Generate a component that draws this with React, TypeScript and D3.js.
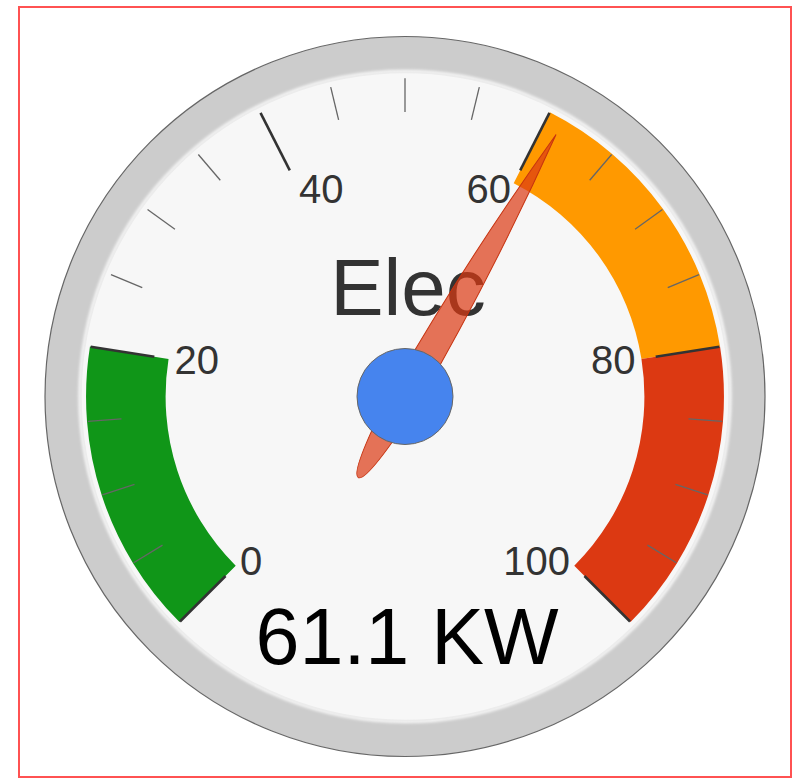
import React from "react";
import * as d3 from "d3";

// gauge content
const gaugeLabel = "Elec";
const gaugeValue = 61.1;
const valueText = "61.1 KW";
const majorTicks = [0, 20, 40, 60, 80, 100];
const bandFrom = [0, 60, 80];
const bandTo = [20, 80, 100];
const bandColors = ["#109618", "#FF9900", "#DC3912"];

const W = 794,
  H = 778;
const cx = 405,
  cy = 396.5,
  R = 360;

export default function App() {
  // value -> angle (degrees, 0 = up, clockwise)
  const angle = d3.scaleLinear().domain([0, 100]).range([-135, 135]);
  const rad = (v: number) => (angle(v) * Math.PI) / 180;
  const pt = (v: number, r: number) => [
    cx + r * Math.sin(rad(v)),
    cy - r * Math.cos(rad(v)),
  ];

  const bandArc = d3
    .arc<any>()
    .innerRadius(R * 0.665)
    .outerRadius(R * 0.886);

  const minorTicks = angle.ticks(25).filter((t) => majorTicks.indexOf(t) < 0);

  // needle shape, pointing up, then rotated
  const needle = d3.path();
  const tip = R * 0.84,
    tail = R * 0.26,
    hw = 15;
  needle.moveTo(0, -tip);
  needle.quadraticCurveTo(hw, -tip / 2, hw, 0);
  needle.quadraticCurveTo(10, tail, 0, tail);
  needle.quadraticCurveTo(-10, tail, -hw, 0);
  needle.quadraticCurveTo(-hw, -tip / 2, 0, -tip);
  needle.closePath();

  const font = "Arial, 'Liberation Sans', sans-serif";

  return (
    <div style={{ position: "absolute", left: 0, top: 0 }}>
      <svg width={W} height={H} style={{ display: "block" }}>
        <defs>
          <filter id="soft" x="-10%" y="-10%" width="120%" height="120%">
            <feGaussianBlur stdDeviation="1.6" />
          </filter>
        </defs>
        <rect x={0} y={0} width={W} height={H} fill="#fff" />
        <rect
          x={19}
          y={7}
          width={772}
          height={770}
          fill="none"
          stroke="#ff5252"
          strokeWidth={2}
        />

        {/* rim and face */}
        <circle cx={cx} cy={cy} r={R} fill="#ccc" stroke="#666" strokeWidth={1.2} />
        <circle
          cx={cx}
          cy={cy}
          r={R * 0.9 + 1}
          fill="none"
          stroke="#fdfdfd"
          strokeWidth={3}
          filter="url(#soft)"
        />
        <circle cx={cx} cy={cy} r={R * 0.9} fill="#f7f7f7" stroke="#ececec" strokeWidth={1.5} />

        {/* bands */}
        <g transform={`translate(${cx},${cy})`}>
          {bandFrom.map((b, i) => (
            <path
              key={"band" + i}
              d={bandArc({ startAngle: rad(b), endAngle: rad(bandTo[i]) }) || ""}
              fill={bandColors[i]}
            />
          ))}
        </g>

        {/* minor ticks */}
        {minorTicks.map((t) => {
          const [x1, y1] = pt(t, R * 0.79);
          const [x2, y2] = pt(t, R * 0.884);
          return (
            <line
              key={"mi" + t}
              x1={x1}
              y1={y1}
              x2={x2}
              y2={y2}
              stroke="#666"
              strokeWidth={1.3}
            />
          );
        })}

        {/* major ticks */}
        {majorTicks.map((t) => {
          const [x1, y1] = pt(t, R * 0.705);
          const [x2, y2] = pt(t, R * 0.884);
          return (
            <line
              key={"ma" + t}
              x1={x1}
              y1={y1}
              x2={x2}
              y2={y2}
              stroke="#333"
              strokeWidth={2.6}
            />
          );
        })}

        {/* tick labels */}
        {majorTicks.map((t) => {
          const [x, y] = pt(t, R * 0.648);
          return (
            <text
              key={"lb" + t}
              x={x}
              y={y}
              textAnchor={t < 50 ? "start" : "end"}
              dominantBaseline="central"
              fontFamily={font}
              fontSize={40}
              fill="#333"
            >
              {t}
            </text>
          );
        })}

        <text
          x={cx + 3}
          y={315}
          textAnchor="middle"
          fontFamily={font}
          fontSize={80}
          fill="#333"
        >
          {gaugeLabel}
        </text>

        <text
          x={cx + 2}
          y={664}
          textAnchor="middle"
          fontFamily={font}
          fontSize={79}
          fill="#000"
        >
          {valueText}
        </text>

        {/* needle */}
        <path
          d={needle.toString()}
          transform={`translate(${cx},${cy}) rotate(${angle(gaugeValue)})`}
          fill="rgba(220,57,18,0.7)"
          stroke="#c63310"
          strokeWidth={1}
        />
        <circle cx={cx} cy={cy} r={48} fill="#4684EE" stroke="#666" strokeWidth={1} />
      </svg>
    </div>
  );
}
